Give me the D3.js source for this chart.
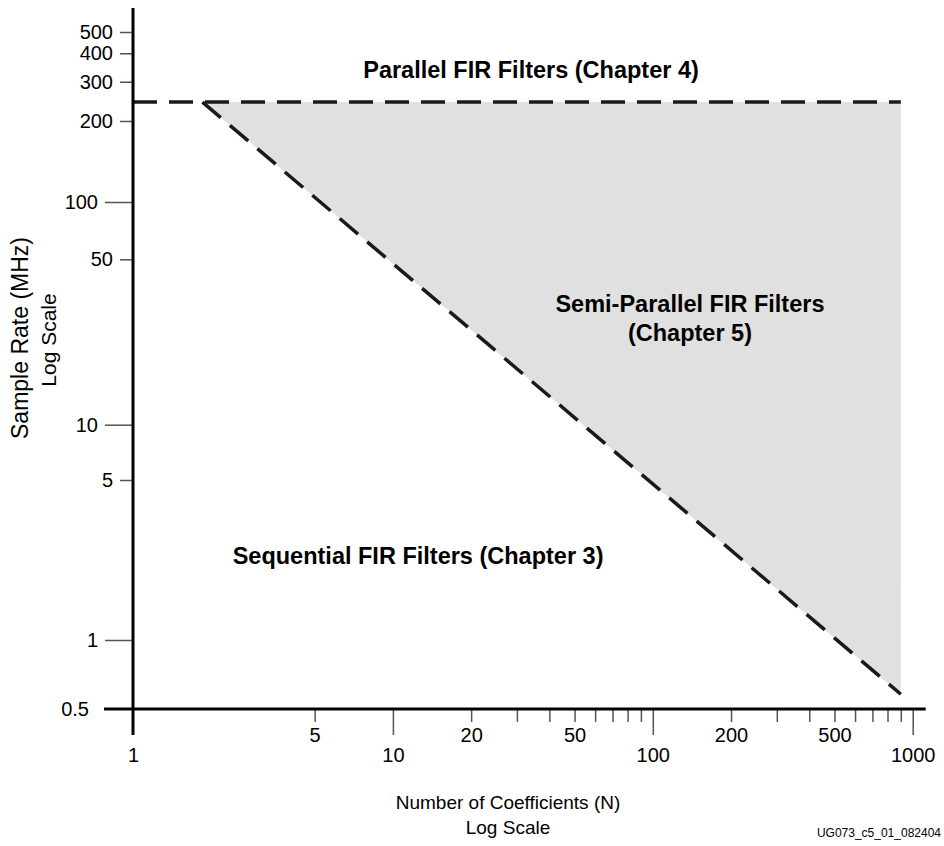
<!DOCTYPE html>
<html>
<head>
<meta charset="utf-8">
<script src="https://cdn.jsdelivr.net/npm/d3@7"></script>
<style>
  body { margin: 0; background: #fff; }
  svg { font-family: "Liberation Sans", Arial, Helvetica, sans-serif; }
  .tick text { font-size: 20px; fill: #000; }
  .region { font-weight: bold; font-size: 23.5px; fill: #000; }
</style>
</head>
<body>
<svg width="944" height="846"></svg>
<script>
// axis ticks
var rateMajor = [1, 10, 100];
var rateMinor = [5, 50, 200, 300, 400, 500];
var coefMajor = [10, 100, 1000];
var coefMinor = [5, 20, 30, 40, 50, 60, 70, 80, 90, 200, 300, 400, 500, 600, 700, 800, 900];
var coefLabeled = [5, 20, 50, 200, 500];

// region boundaries (N, MHz)
var parallelLimit = 243;
var boundaryN = [1.85, 900];
var boundaryRate = [243, 0.58];

var regionLabels = ["Parallel FIR Filters (Chapter 4)", "Semi-Parallel FIR Filters", "(Chapter 5)", "Sequential FIR Filters (Chapter 3)"];
var regionN = [34, 139, 139, 12.5];
var regionRate = [311, 30, 22.6, 2.15];

var svg = d3.select("svg");

var x = d3.scaleLog().domain([1, 1000]).range([133, 912.7]);
// the drawing's decades are not quite even, so the log scale is piecewise
var y = d3.scaleLog()
    .domain([0.5, 1, 5, 10, 50, 100, 200, 300, 400, 500])
    .range([709, 640, 480, 424.7, 259.3, 202, 121, 81.7, 53.3, 32]);

// shaded semi-parallel region
var tri = [[boundaryN[0], parallelLimit], [boundaryN[1], parallelLimit], [boundaryN[1], boundaryRate[1]]];
svg.append("path")
    .attr("d", d3.line().x(function (d) { return x(d[0]); }).y(function (d) { return y(d[1]); })(tri) + "Z")
    .attr("fill", "#e0e0e0");

// dashed boundaries
svg.append("line")
    .attr("x1", x(1)).attr("x2", x(boundaryN[1]))
    .attr("y1", y(parallelLimit)).attr("y2", y(parallelLimit))
    .attr("stroke", "#1a1a1a").attr("stroke-width", 3.5).attr("stroke-dasharray", "24 12");
svg.append("line")
    .attr("x1", x(boundaryN[0])).attr("x2", x(boundaryN[1]))
    .attr("y1", y(boundaryRate[0])).attr("y2", y(boundaryRate[1]))
    .attr("stroke", "#1a1a1a").attr("stroke-width", 3.5).attr("stroke-dasharray", "24 12");

// y axis
var fmt = function (d) { return d; };
var yMaj = svg.append("g").attr("transform", "translate(" + x(1) + ",0)")
    .call(d3.axisLeft(y).tickValues(rateMajor).tickSize(28).tickPadding(7).tickFormat(fmt));
var yMin = svg.append("g").attr("transform", "translate(" + x(1) + ",0)")
    .call(d3.axisLeft(y).tickValues(rateMinor).tickSize(13).tickPadding(7).tickFormat(fmt));
var yHalf = svg.append("g").attr("transform", "translate(" + x(1) + ",0)")
    .call(d3.axisLeft(y).tickValues([0.5]).tickSize(29).tickPadding(15).tickFormat(fmt));

// x axis
var xMaj = svg.append("g").attr("transform", "translate(0," + y(0.5) + ")")
    .call(d3.axisBottom(x).tickValues(coefMajor).tickSize(26).tickPadding(13).tickFormat(fmt));
var xMin = svg.append("g").attr("transform", "translate(0," + y(0.5) + ")")
    .call(d3.axisBottom(x).tickValues(coefMinor).tickSize(13).tickPadding(6)
        .tickFormat(function (d) { return coefLabeled.indexOf(d) >= 0 ? d : ""; }));
var xOne = svg.append("g").attr("transform", "translate(0," + y(0.5) + ")")
    .call(d3.axisBottom(x).tickValues([1]).tickSize(26).tickPadding(13).tickFormat(fmt));

svg.selectAll(".domain").remove();
svg.selectAll(".tick line").attr("stroke", "#555").attr("stroke-width", 1.5);
xOne.selectAll(".tick line").remove();
yHalf.selectAll(".tick line").remove();

// main axis lines
svg.append("line")
    .attr("x1", x(1)).attr("x2", x(1))
    .attr("y1", y(500) - 24).attr("y2", y(0.5) + 26)
    .attr("stroke", "#000").attr("stroke-width", 3);
svg.append("line")
    .attr("x1", x(1) - 29).attr("x2", x(1000) + 13)
    .attr("y1", y(0.5)).attr("y2", y(0.5))
    .attr("stroke", "#000").attr("stroke-width", 3);

// region labels
svg.selectAll(".region")
    .data(regionLabels)
    .enter().append("text")
    .attr("class", "region")
    .attr("x", function (d, i) { return x(regionN[i]); })
    .attr("y", function (d, i) { return y(regionRate[i]); })
    .attr("text-anchor", "middle")
    .text(function (d) { return d; });

// axis titles
svg.append("text")
    .attr("transform", "translate(28,338) rotate(-90)")
    .attr("text-anchor", "middle").attr("font-size", 23)
    .text("Sample Rate (MHz)");
svg.append("text")
    .attr("transform", "translate(56,340) rotate(-90)")
    .attr("text-anchor", "middle").attr("font-size", 21)
    .text("Log Scale");
svg.append("text")
    .attr("x", 508).attr("y", 809)
    .attr("text-anchor", "middle").attr("font-size", 19)
    .text("Number of Coefficients (N)");
svg.append("text")
    .attr("x", 508).attr("y", 834)
    .attr("text-anchor", "middle").attr("font-size", 19)
    .text("Log Scale");
svg.append("text")
    .attr("x", 941).attr("y", 837)
    .attr("text-anchor", "end").attr("font-size", 12)
    .text("UG073_c5_01_082404");
</script>
</body>
</html>
